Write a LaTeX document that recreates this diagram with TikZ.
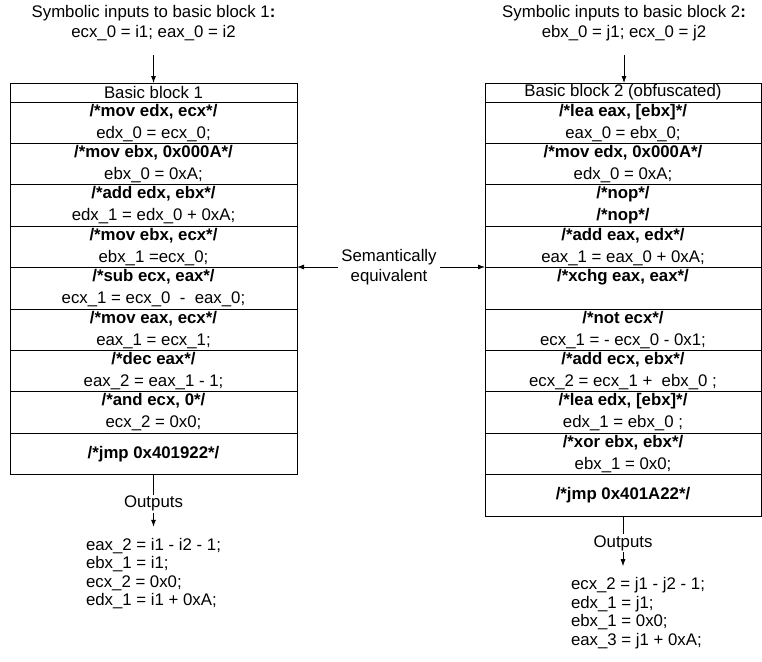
\documentclass[tikz,border=0pt]{standalone}
\usepackage{fontspec}
\setmainfont{Liberation Sans}
\usetikzlibrary{positioning,arrows.meta}

\begin{document}
\begin{tikzpicture}[x=1pt,y=-1pt,
  every node/.style={inner sep=0pt, outer sep=0pt, font=\fontsize{16.8}{20}\selectfont},
  instr/.style={draw, line width=1pt, minimum height=41.4pt, align=center,
    font=\fontsize{16.8}{22}\selectfont},
  blka/.style={instr, minimum width=287pt},
  blkb/.style={instr, minimum width=276pt},
  hdr/.style={draw, line width=1pt, minimum height=19pt},
  res/.style={align=left, inner ysep=11.5pt, font=\fontsize{16.8}{18.5}\selectfont},
  arr/.style={-{Latex[length=7pt,width=5pt]}, line width=0.8pt}]
\useasboundingbox (0,0) rectangle (762,661);

% basic block 1
\node[align=center] (inone) at (153.5,23)
  {Symbolic inputs to basic block 1\textbf{:}\\ecx\_0 = i1; eax\_0 = i2};
\node[hdr, minimum width=287pt] (hdra) at (153.5,92.5) {Basic block 1};
\node[blka, below=0pt of hdra] (l1) {\textbf{/*mov edx, ecx*/}\\edx\_0 = ecx\_0;};
\node[blka, below=0pt of l1] (l2) {\textbf{/*mov ebx, 0x000A*/}\\ebx\_0 = 0xA;};
\node[blka, below=0pt of l2] (l3) {\textbf{/*add edx, ebx*/}\\edx\_1 = edx\_0 + 0xA;};
\node[blka, below=0pt of l3] (l4) {\textbf{/*mov ebx, ecx*/}\\ebx\_1 =ecx\_0;};
\node[blka, below=0pt of l4] (l5) {\textbf{/*sub ecx, eax*/}\\ecx\_1 = ecx\_0 ~-~ eax\_0;};
\node[blka, below=0pt of l5] (l6) {\textbf{/*mov eax, ecx*/}\\eax\_1 = ecx\_1;};
\node[blka, below=0pt of l6] (l7) {\textbf{/*dec eax*/}\\eax\_2 = eax\_1 - 1;};
\node[blka, below=0pt of l7] (l8) {\textbf{/*and ecx, 0*/}\\ecx\_2 = 0x0;};
\node[blka, below=0pt of l8] (ljmp) {\textbf{/*jmp 0x401922*/}};

\coordinate[below=14pt of inone] (inonetail);
\draw[arr] (inonetail) -- (hdra);

\node[inner ysep=1.5pt, below=20pt of ljmp] (outa) {Outputs};
\node[res, below=14pt of outa] (resa)
  {eax\_2 = i1 - i2 - 1;\\ebx\_1 = i1;\\ecx\_2 = 0x0;\\edx\_1 = i1 + 0xA;};
\draw[line width=0.8pt] (ljmp) -- (outa);
\draw[arr] (outa) -- (resa);

% basic block 2
\node[align=center] (intwo) at (624,23)
  {Symbolic inputs to basic block 2\textbf{:}\\ebx\_0 = j1; ecx\_0 = j2};
\node[hdr, minimum width=276pt] (hdrb) at (623,92.5) {Basic block 2 (obfuscated)};
\node[blkb, below=0pt of hdrb] (r1) {\textbf{/*lea eax, [ebx]*/}\\eax\_0 = ebx\_0;};
\node[blkb, below=0pt of r1] (r2) {\textbf{/*mov edx, 0x000A*/}\\edx\_0 = 0xA;};
\node[blkb, below=0pt of r2] (r3) {\textbf{/*nop*/}\\\textbf{/*nop*/}};
\node[blkb, below=0pt of r3] (r4) {\textbf{/*add eax, edx*/}\\eax\_1 = eax\_0 + 0xA;};
\node[blkb, below=0pt of r4] (r5) {\textbf{/*xchg eax, eax*/}\\\vphantom{eax\_0;}};
\node[blkb, below=0pt of r5] (r6) {\textbf{/*not ecx*/}\\ecx\_1 = - ecx\_0 - 0x1;};
\node[blkb, below=0pt of r6] (r7) {\textbf{/*add ecx, ebx*/}\\ecx\_2 = ecx\_1 + ~ebx\_0 ;};
\node[blkb, below=0pt of r7] (r8) {\textbf{/*lea edx, [ebx]*/}\\edx\_1 = ebx\_0 ;};
\node[blkb, below=0pt of r8] (r9) {\textbf{/*xor ebx, ebx*/}\\ebx\_1 = 0x0;};
\node[blkb, below=0pt of r9] (rjmp) {\textbf{/*jmp 0x401A22*/}};

\coordinate (intwotail) at (intwo.south |- inonetail);
\draw[arr] (intwotail) -- (intwotail |- hdrb.north);

\node[inner ysep=1.5pt, below=18pt of rjmp] (outb) {Outputs};
\node[res, below=14pt of outb, xshift=15pt] (resb)
  {ecx\_2 = j1 - j2 - 1;\\edx\_1 = j1;\\ebx\_1 = 0x0;\\eax\_3 = j1 + 0xA;};
\draw[line width=0.8pt] (rjmp) -- (outb);
\draw[arr] (outb) -- (outb |- resb.north);

% between the blocks
\node[align=center, inner xsep=3pt] (sem) at (389,267) {Semantically\\equivalent};
\draw[arr] (sem.west) -- (sem.west -| l4.east);
\draw[arr] (sem.east) -- (sem.east -| r4.west);
\end{tikzpicture}
\end{document}
